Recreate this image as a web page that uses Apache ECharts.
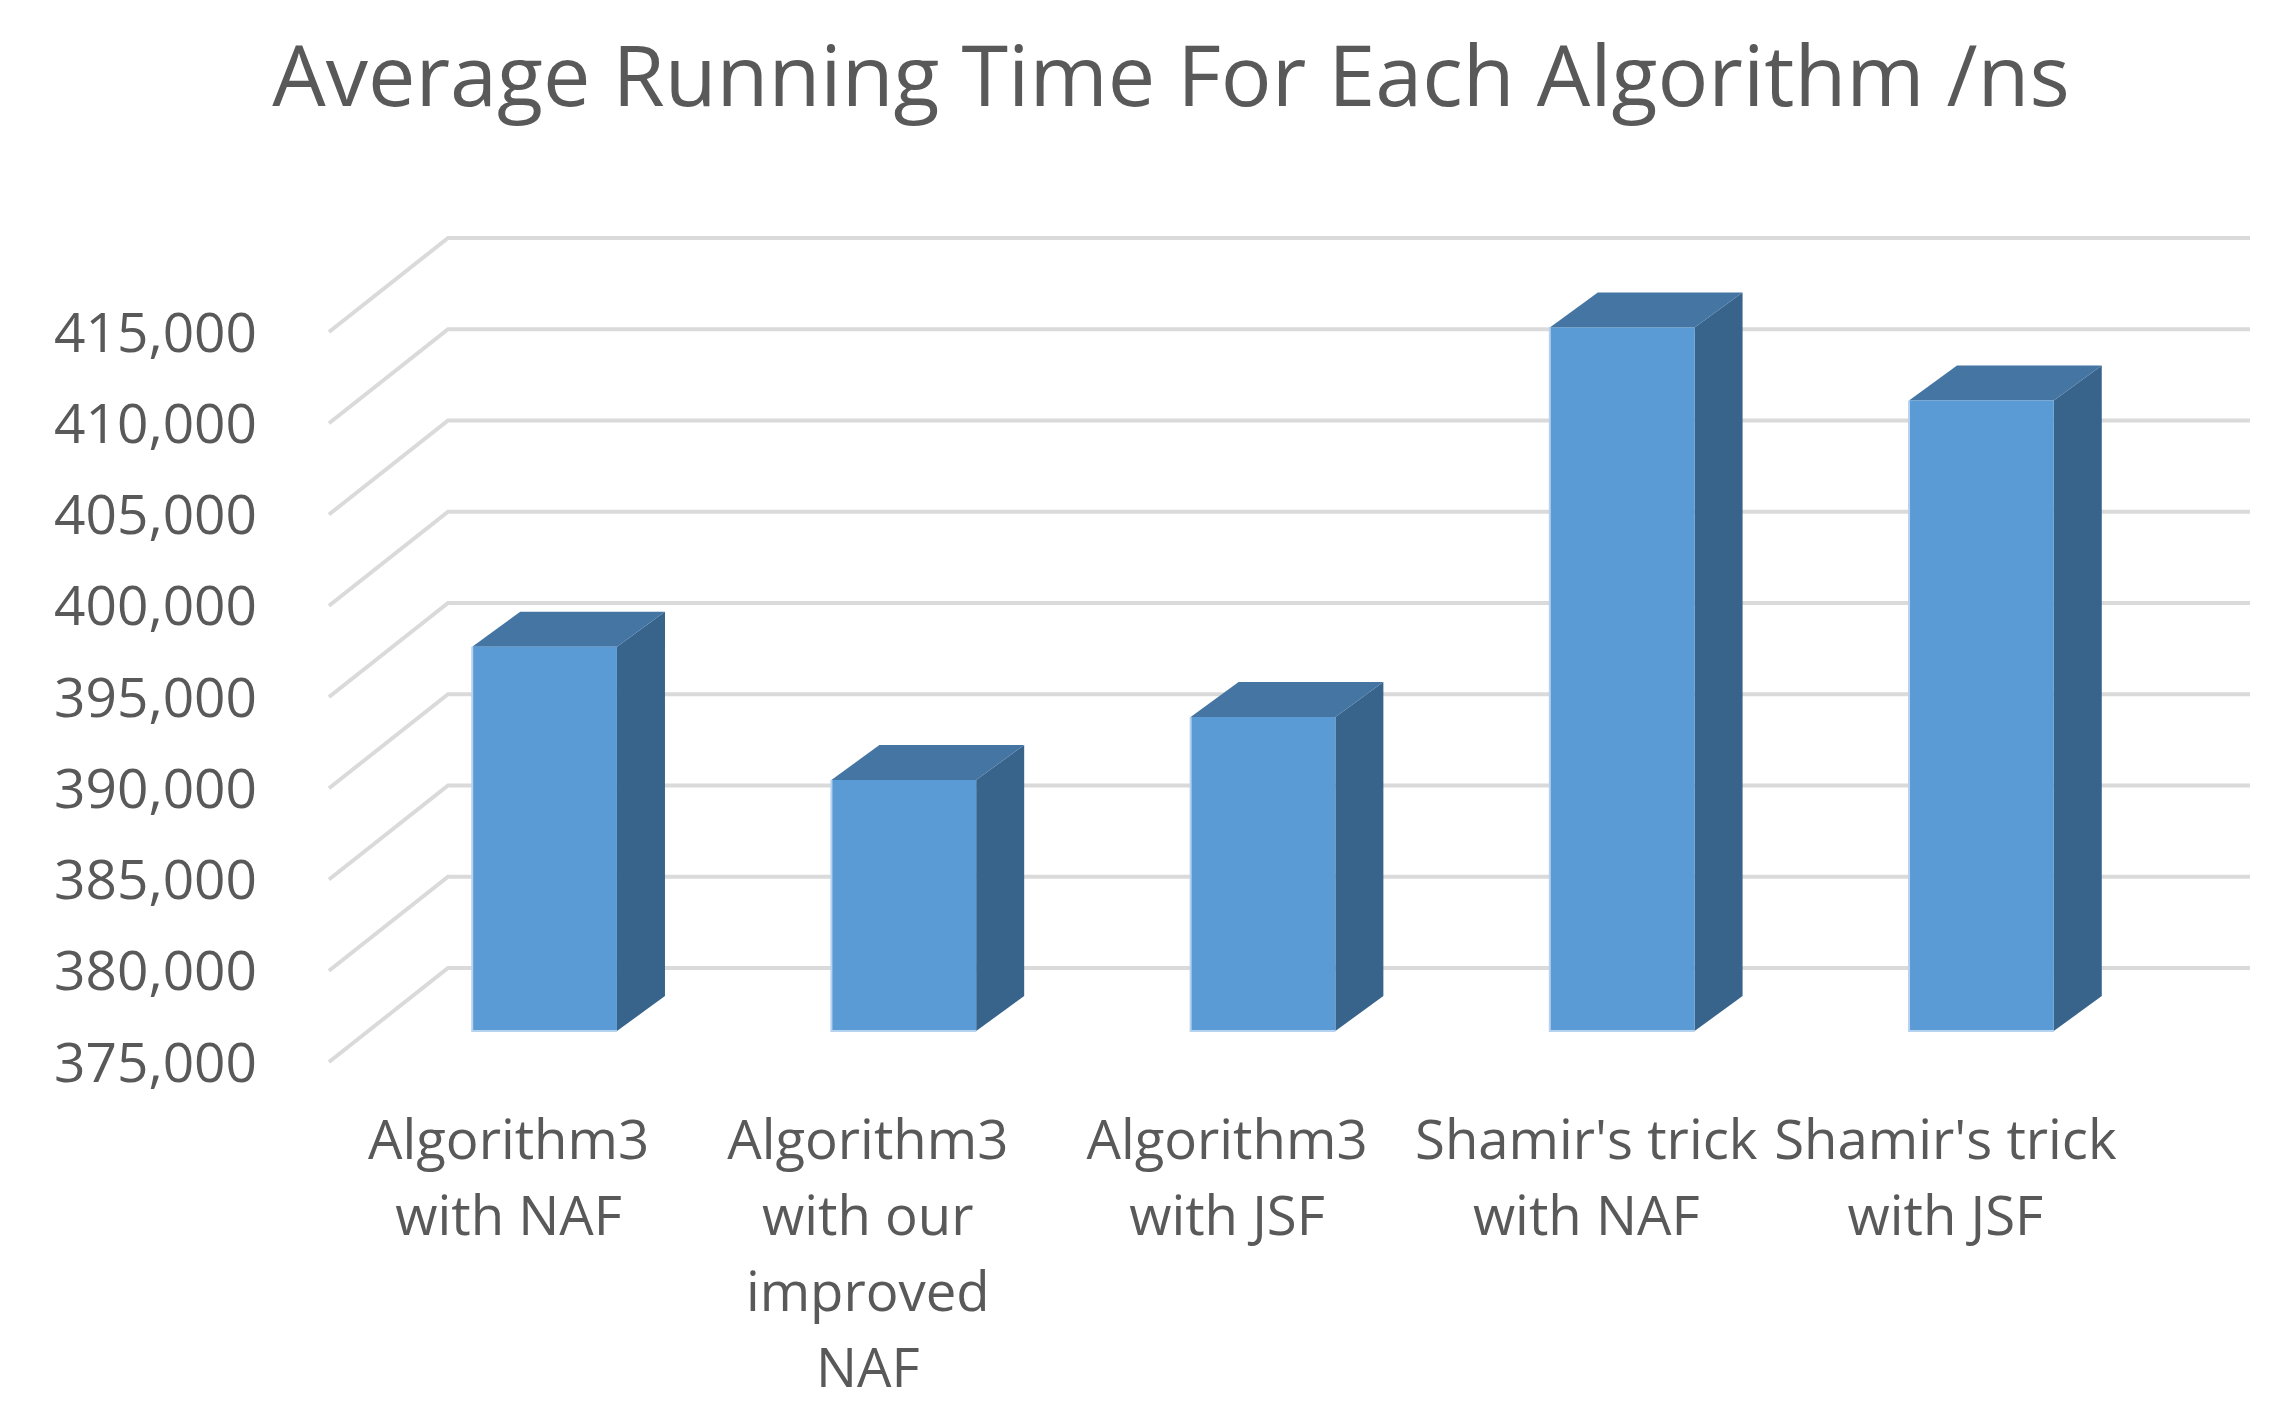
<!DOCTYPE html>
<html>
<head>
<meta charset="utf-8">
<style>html,body{margin:0;padding:0;background:#fff;overflow:hidden}#c{width:2291px;height:1413px;filter:blur(0.7px)}</style>
<script src="https://cdn.jsdelivr.net/npm/echarts@6/dist/echarts.min.js"></script>
</head>
<body>
<div id="c"></div>
<script>
const titleText = "Average Running Time For Each Algorithm /ns";
const categories = ["Algorithm3\nwith NAF", "Algorithm3\nwith our\nimproved\nNAF", "Algorithm3\nwith JSF", "Shamir's trick\nwith NAF", "Shamir's trick\nwith JSF"];
const runningTimes = [396050, 388750, 392200, 413550, 409550];
const tickValues = [375000, 380000, 385000, 390000, 395000, 400000, 405000, 410000, 415000];

const wallDx = 119, wallDy = -94, wallExtra = 6;
const barDx = 36, barDy = -31, depthDx = 48, depthDy = -35, barRatio = 0.403;
const chart = echarts.init(document.getElementById('c'));
const fontFamily = '"Open Sans", sans-serif';

function renderWall(params, api) {
  const y = api.coord([0, api.value(1)])[1];
  const cs = params.coordSys;
  return {
    type: 'polyline',
    shape: { points: [[cs.x, y], [cs.x + wallDx, y + wallDy], [cs.x + cs.width + wallDx + wallExtra, y + wallDy]] },
    style: { stroke: '#dadada', lineWidth: 4, fill: null }
  };
}
function renderBar(params, api) {
  const i = api.value(0);
  const top = api.coord([i, api.value(1)]);
  const base = api.coord([i, 375000]);
  const w = api.size([1, 0])[0] * barRatio;
  const l = top[0] + barDx - w / 2, r = l + w;
  const t = top[1] + barDy, b = base[1] + barDy;
  return {
    type: 'group',
    children: [
      { type: 'polygon', shape: { points: [[r, t], [r + depthDx, t + depthDy], [r + depthDx, b + depthDy], [r, b]] }, style: { fill: '#38648c' } },
      { type: 'polygon', shape: { points: [[l, t], [l + depthDx, t + depthDy], [r + depthDx, t + depthDy], [r, t]] }, style: { fill: '#4475a3' } },
      { type: 'rect', shape: { x: l, y: t, width: w, height: b - t }, style: { fill: '#5b9bd5' } },
      { type: 'polyline', shape: { points: [[l, t], [l, b], [r, b]] }, style: { stroke: '#b5d3ef', lineWidth: 2, fill: null } }
    ]
  };
}
chart.setOption({
  animation: false,
  backgroundColor: '#ffffff',
  title: {
    text: titleText, left: 1166, top: 34, textAlign: 'center',
    textStyle: { color: '#595959', fontSize: 84.6, fontWeight: 'normal', fontFamily }
  },
  grid: { left: 329, top: 332, width: 1796, height: 730, containLabel: false },
  xAxis: {
    type: 'category', data: categories,
    axisLine: { show: false }, axisTick: { show: false }, splitLine: { show: false },
    axisLabel: { interval: 0, margin: 43, color: '#595959', fontSize: 54.5, fontFamily, lineHeight: 76, hideOverlap: false, overflow: 'none' }
  },
  yAxis: {
    type: 'value', min: 375000, max: 415000, interval: 5000,
    axisLine: { show: false }, axisTick: { show: false }, splitLine: { show: false },
    axisLabel: {
      margin: 72, color: '#595959', fontSize: 55, fontFamily,
      formatter: v => '{n|' + v.toLocaleString('en-US') + '}',
      rich: { n: { color: '#595959', fontSize: 55, fontFamily, lineHeight: 66, padding: [8, 0, 0, 0] } }
    }
  },
  series: [
    { type: 'custom', name: 'Walls', renderItem: renderWall, data: tickValues.map(v => [0, v]), encode: { x: 0, y: 1 }, silent: true, z: 1 },
    { type: 'custom', name: 'Running time', renderItem: renderBar, data: runningTimes.map((v, i) => [i, v]), encode: { x: 0, y: 1 }, z: 2 }
  ]
});
</script>
</body>
</html>
